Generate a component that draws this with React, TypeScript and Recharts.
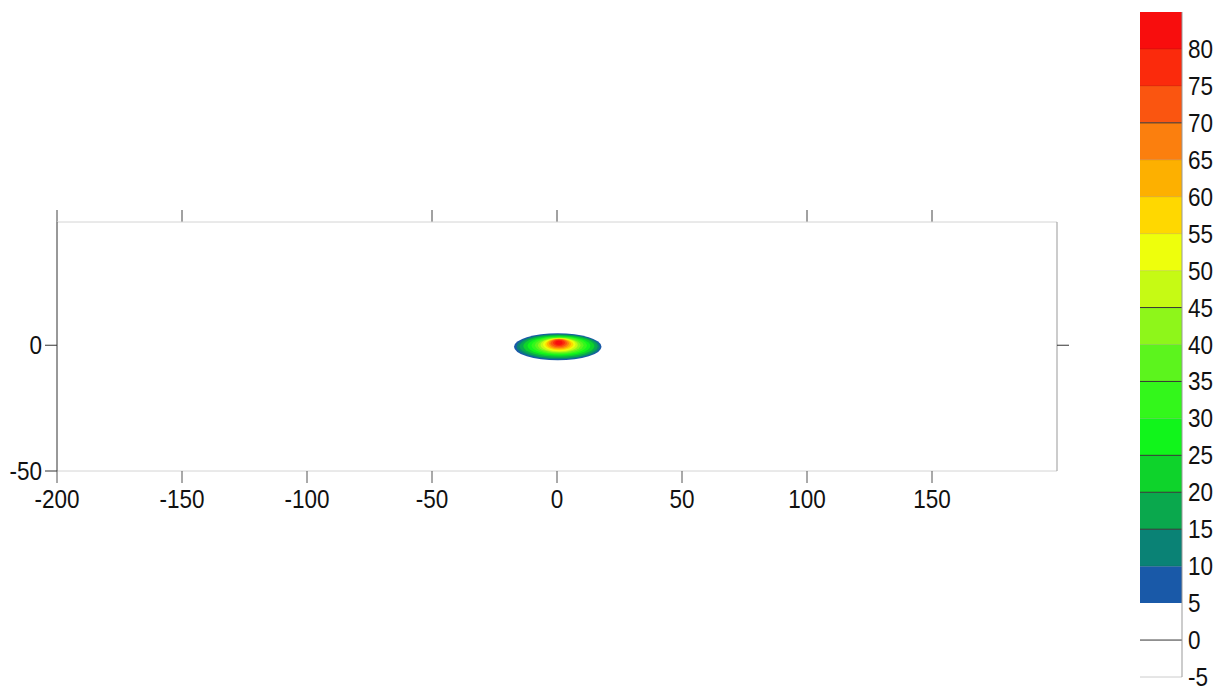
import React from 'react';
import {
  ComposedChart, BarChart, Bar, XAxis, YAxis, ReferenceArea, ReferenceLine,
} from 'recharts';

// contour levels (lower bound of each band) and colours
const levels = [5, 10, 15, 20, 25, 30, 35, 40, 45, 50, 55, 60, 65, 70, 75, 80];
const levelTop = 85;
const bandColors = [
  '#1959a8', '#0a8275', '#0aa84d', '#0ed32b', '#11f51b', '#33f71b', '#5cf41d', '#8ef61a',
  '#c6fa14', '#eeff0c', '#ffd800', '#fdb000', '#fb7f0e', '#fa5510', '#fb2a0c', '#f80d0d',
];
// colourbar boundary lines
const darkLines = [15, 20, 25, 35, 45, 70];
const faintLines = [10, 30, 40, 50, 55, 60, 65, 75, 80];

// extent of each filled contour (x1..x2, y1..y2), one per level
const contourX1 = [-17.2, -16.2, -15, -13.5, -11.8, -10.2, -8.8, -7.6, -6.6, -5.6, -4.7, -4, -3.2, -2.5, -1.6, -0.7];
const contourX2 = [17.8, 17.2, 16.3, 15, 13.4, 12, 10.6, 9.4, 8.3, 7.4, 6.5, 5.6, 4.8, 4, 3.2, 2.2];
const contourY1 = [-6, -5.6, -5.1, -4.6, -4.1, -3.7, -3.3, -3, -2.7, -2.3, -2, -1.6, -1.2, -0.8, -0.3, 0.2];
const contourY2 = [4.8, 4.5, 4.2, 3.9, 3.6, 3.4, 3.2, 3.0, 2.9, 2.8, 2.7, 2.6, 2.5, 2.4, 2.2, 1.8];

// axis ticks
const xTicks = [-200, -150, -100, -50, 0, 50, 100, 150];
const xTopTicks = [-200, -150, -50, 0, 100, 150];
const yTicks = [-50, 0];
const barTicks = [-5, 0, 5, 10, 15, 20, 25, 30, 35, 40, 45, 50, 55, 60, 65, 70, 75, 80];

const font = '"Liberation Sans", Arial, sans-serif';

// slightly narrow Arial-like labels
const Label = ({ x, y, text, anchor, dy }: any) => (
  <g transform={`translate(${x},${y})`}>
    <text
      transform="scale(0.9,1)"
      y={dy}
      textAnchor={anchor}
      fontSize={25}
      fontFamily={font}
      fill="#111"
    >
      {text}
    </text>
  </g>
);

const BottomTick = (props: any) => (
  <Label x={props.x} y={props.y} text={props.payload.value} anchor="middle" dy={25} />
);
const LeftTick = (props: any) => (
  <Label x={props.x} y={props.y} text={props.payload.value} anchor="end" dy={9} />
);
const BarTick = (props: any) => (
  <Label x={props.x} y={props.y} text={props.payload.value} anchor="start" dy={9} />
);
const NoTick = () => <g />;

// short outward tick above the top border
const TopTickShape = (props: any) => {
  const { x1, y1, y2 } = props;
  if (x1 == null) return null;
  const top = Math.min(y1, y2);
  return <line x1={x1} x2={x1} y1={top} y2={top - 12} stroke="#444" strokeWidth={1} />;
};

const EllipseShape = (props: any) => {
  const { x, y, width, height, fill } = props;
  if (x == null || width == null) return null;
  return (
    <ellipse
      cx={x + width / 2}
      cy={y + height / 2}
      rx={Math.abs(width) / 2}
      ry={Math.abs(height) / 2}
      fill={fill}
    />
  );
};

// one stacked row for the colourbar
const barRow: Record<string, any> = { name: 'cb', base: levels[0] };
levels.forEach((lvl, i) => {
  const next = i < levels.length - 1 ? levels[i + 1] : levelTop;
  barRow[`l${lvl}`] = next - lvl;
});
const barData = [barRow];

const App: React.FC = () => {
  return (
    <div style={{ position: 'absolute', left: 0, top: 0, width: 1218, height: 691, background: '#fff' }}>
      <div style={{ position: 'absolute', left: 0, top: 0 }}>
        <ComposedChart
          width={1100}
          height={520}
          data={[]}
          margin={{ top: 221, left: 56, right: 42, bottom: 48 }}
        >
          <XAxis
            type="number"
            dataKey="x"
            domain={[-200, 200]}
            ticks={xTicks}
            allowDataOverflow
            height={1}
            tickSize={12}
            tickMargin={0}
            axisLine={{ stroke: '#d4d4d4' }}
            tickLine={{ stroke: '#555' }}
            tick={<BottomTick />}
            interval={0}
          />
          <XAxis
            xAxisId="top"
            orientation="top"
            type="number"
            domain={[-200, 200]}
            allowDataOverflow
            height={1}
            axisLine={{ stroke: '#d4d4d4' }}
            tickLine={false}
            tick={<NoTick />}
          />
          <YAxis
            type="number"
            domain={[-50, 49]}
            ticks={yTicks}
            allowDataOverflow
            width={1}
            tickSize={12}
            tickMargin={3}
            axisLine={{ stroke: '#333' }}
            tickLine={{ stroke: '#333' }}
            tick={<LeftTick />}
            interval={0}
          />
          <YAxis
            yAxisId="right"
            orientation="right"
            type="number"
            domain={[-50, 49]}
            ticks={[0]}
            allowDataOverflow
            width={1}
            tickSize={12}
            axisLine={{ stroke: '#999' }}
            tickLine={{ stroke: '#333' }}
            tick={<NoTick />}
            interval={0}
          />
          {xTopTicks.map((v) => (
            <ReferenceLine key={`t${v}`} x={v} ifOverflow="visible" shape={<TopTickShape />} />
          ))}
          {levels.map((lvl, i) => (
            <ReferenceArea
              key={lvl}
              x1={contourX1[i]}
              x2={contourX2[i]}
              y1={contourY1[i]}
              y2={contourY2[i]}
              fill={bandColors[i]}
              fillOpacity={1}
              stroke="none"
              shape={<EllipseShape />}
            />
          ))}
        </ComposedChart>
      </div>
      <div style={{ position: 'absolute', left: 1100, top: 0 }}>
        <BarChart
          width={118}
          height={691}
          data={barData}
          barCategoryGap={0}
          margin={{ top: 12, left: 40, right: 35, bottom: 14 }}
        >
          <XAxis dataKey="name" hide />
          <YAxis
            orientation="right"
            type="number"
            domain={[-5, 85]}
            ticks={barTicks}
            allowDataOverflow
            width={1}
            tickSize={0}
            tickMargin={6}
            axisLine={{ stroke: '#999' }}
            tickLine={false}
            tick={<BarTick />}
            interval={0}
          />
          <Bar dataKey="base" stackId="cb" fill="none" isAnimationActive={false} />
          {levels.map((lvl, i) => (
            <Bar
              key={lvl}
              dataKey={`l${lvl}`}
              stackId="cb"
              fill={bandColors[i]}
              isAnimationActive={false}
            />
          ))}
          {darkLines.map((v) => (
            <ReferenceLine key={`d${v}`} y={v} stroke="#333" strokeWidth={1} />
          ))}
          {faintLines.map((v) => (
            <ReferenceLine key={`f${v}`} y={v} stroke="#000" strokeOpacity={0.12} strokeWidth={1} />
          ))}
          <ReferenceLine y={0} stroke="#333" strokeWidth={1} />
          <ReferenceLine y={-5} stroke="#ccc" strokeWidth={1} />
        </BarChart>
      </div>
    </div>
  );
};

export default App;
